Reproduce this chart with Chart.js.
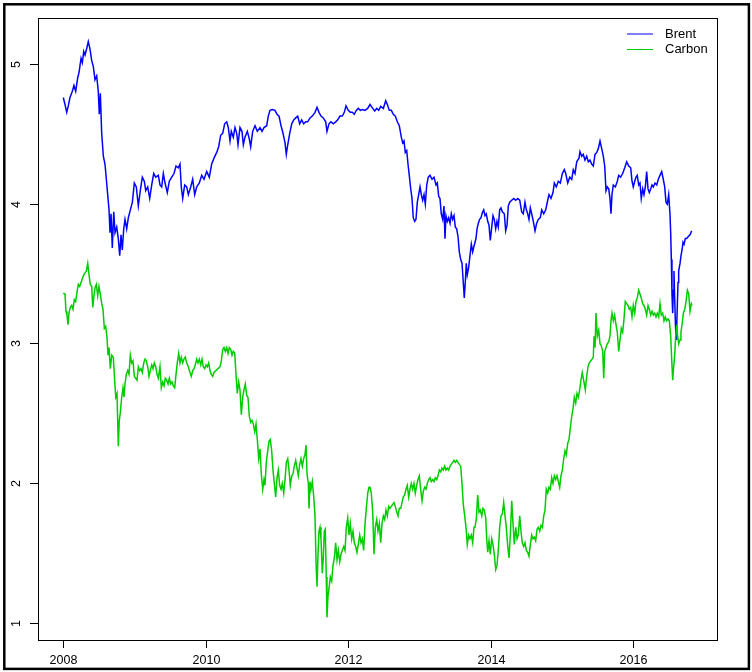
<!DOCTYPE html>
<html>
<head>
    <title>Brent and Carbon</title>
    <script src="https://cdn.jsdelivr.net/npm/chart.js"></script>
    <style>
        html, body {
            margin: 0;
            padding: 0;
            background: #fff;
            overflow: hidden;
        }
        canvas {
            display: block;
        }
    </style>
</head>
<body>
    <canvas id="priceChart" width="752" height="672"></canvas>
    <script>
        // log prices, [decimal year, value]
        const brent = [
            [2008.004,4.76],[2008.028,4.71],[2008.052,4.655],[2008.074,4.70],[2008.098,4.76],[2008.131,4.805],[2008.154,4.846],[2008.178,4.805],[2008.206,4.90],[2008.225,4.94],
            [2008.253,5.04],[2008.271,5.01],[2008.291,5.09],[2008.309,5.065],[2008.337,5.12],[2008.355,5.16],[2008.379,5.107],[2008.403,5.024],[2008.425,4.983],[2008.449,4.887],
            [2008.473,4.915],[2008.495,4.805],[2008.509,4.64],[2008.524,4.79],[2008.543,4.504],[2008.566,4.34],[2008.589,4.284],[2008.604,4.20],[2008.627,4.065],[2008.646,3.956],
            [2008.660,3.792],[2008.674,3.928],[2008.692,3.683],[2008.712,3.942],[2008.730,3.792],[2008.754,3.833],[2008.776,3.75],[2008.796,3.628],[2008.814,3.778],[2008.832,3.669],
            [2008.852,3.819],[2008.870,3.888],[2008.894,3.82],[2008.917,3.90],[2008.945,3.956],[2008.973,4.01],[2009.001,4.148],[2009.029,4.12],[2009.057,3.984],[2009.085,4.093],
            [2009.113,4.19],[2009.141,4.161],[2009.161,4.093],[2009.189,4.12],[2009.217,4.038],[2009.245,4.134],[2009.273,4.216],[2009.301,4.19],[2009.338,4.203],
            [2009.361,4.134],[2009.385,4.12],[2009.408,4.216],[2009.432,4.148],[2009.464,4.08],[2009.492,4.161],[2009.526,4.19],[2009.558,4.216],[2009.586,4.27],[2009.618,4.257],
            [2009.642,4.284],[2009.660,4.12],[2009.680,4.038],[2009.708,4.134],[2009.736,4.12],[2009.759,4.065],[2009.792,4.12],[2009.820,4.175],[2009.848,4.065],[2009.876,4.12],
            [2009.913,4.148],[2009.947,4.203],[2009.979,4.175],[2010.017,4.23],[2010.053,4.19],[2010.087,4.284],[2010.119,4.326],[2010.157,4.367],[2010.185,4.408],[2010.213,4.49],
            [2010.241,4.504],[2010.269,4.572],[2010.298,4.586],[2010.320,4.545],[2010.344,4.449],[2010.362,4.518],[2010.390,4.476],[2010.414,4.545],[2010.438,4.504],[2010.456,4.422],
            [2010.484,4.545],[2010.512,4.518],[2010.531,4.422],[2010.554,4.476],[2010.587,4.518],[2010.615,4.463],[2010.634,4.408],[2010.662,4.518],[2010.695,4.558],[2010.727,4.518],
            [2010.765,4.545],[2010.793,4.518],[2010.821,4.545],
            [2010.835,4.545],[2010.859,4.558],[2010.881,4.627],[2010.905,4.668],[2010.938,4.674],[2010.975,4.668],[2011.004,4.64],[2011.032,4.627],[2011.060,4.558],[2011.088,4.504],
            [2011.116,4.435],[2011.134,4.353],[2011.154,4.422],[2011.182,4.504],[2011.210,4.572],[2011.238,4.60],[2011.266,4.614],[2011.294,4.627],[2011.322,4.572],[2011.350,4.60],
            [2011.378,4.572],[2011.406,4.586],[2011.434,4.586],[2011.467,4.614],[2011.499,4.627],[2011.537,4.654],[2011.565,4.69],[2011.593,4.654],[2011.621,4.627],[2011.653,4.614],
            [2011.687,4.586],[2011.705,4.518],[2011.733,4.572],[2011.761,4.586],[2011.794,4.572],[2011.827,4.586],[2011.855,4.60],[2011.888,4.627],[2011.920,4.627],[2011.948,4.654],
            [2011.972,4.70],[2012.004,4.668],[2012.032,4.654],[2012.060,4.654],[2012.088,4.64],[2012.116,4.668],[2012.144,4.682],[2012.173,4.668],[2012.201,4.674],[2012.239,4.668],
            [2012.276,4.682],
            [2012.309,4.71],[2012.347,4.682],[2012.375,4.663],[2012.403,4.682],[2012.431,4.668],[2012.459,4.696],[2012.496,4.682],[2012.529,4.737],[2012.552,4.71],[2012.580,4.668],
            [2012.608,4.668],[2012.636,4.64],[2012.664,4.627],[2012.692,4.586],[2012.720,4.558],[2012.748,4.476],[2012.768,4.435],[2012.786,4.449],[2012.804,4.367],[2012.824,4.381],
            [2012.842,4.284],[2012.860,4.203],[2012.880,4.107],[2012.898,4.038],[2012.916,3.90],[2012.936,3.874],[2012.954,3.888],[2012.973,4.011],[2012.992,4.065],[2013.011,4.12],
            [2013.029,4.065],[2013.048,4.025],[2013.067,4.065],[2013.085,3.997],[2013.105,4.134],[2013.127,4.19],[2013.151,4.203],[2013.179,4.175],[2013.207,4.19],[2013.235,4.134],
            [2013.253,4.148],[2013.273,4.052],[2013.291,4.038],[2013.309,3.928],[2013.329,3.888],[2013.347,3.984],[2013.361,3.75],[2013.375,3.915],[2013.394,3.874],[2013.413,3.90],
            [2013.432,3.86],[2013.450,3.928],[2013.469,3.888],[2013.488,3.915],[2013.506,3.833],[2013.526,3.819],[2013.544,3.765],[2013.562,3.655],[2013.582,3.60],[2013.600,3.574],
            [2013.618,3.436],[2013.632,3.326],[2013.646,3.436],[2013.660,3.574],[2013.674,3.491],[2013.694,3.545],[2013.712,3.628],[2013.731,3.71],[2013.750,3.655],[2013.768,3.696],
            [2013.796,3.751],[2013.811,3.82],[2013.829,3.86],[2013.848,3.888],[2013.867,3.90],[2013.885,3.935],[2013.905,3.956],[2013.923,3.915],[2013.941,3.928],[2013.961,3.874],
            [2013.979,3.846],[2013.997,3.737],[2014.017,3.833],[2014.035,3.915],[2014.053,3.888],[2014.073,3.82],[2014.091,3.874],[2014.109,3.833],[2014.129,3.956],[2014.147,3.97],
            [2014.166,3.942],[2014.194,3.928],[2014.213,3.806],[2014.232,3.846],[2014.250,3.984],[2014.270,4.011],[2014.298,4.025],[2014.326,4.038],[2014.354,4.025],[2014.382,4.038],
            [2014.410,4.025],[2014.438,3.942],[2014.460,3.928],[2014.484,4.011],[2014.503,3.956],[2014.522,3.928],[2014.540,3.888],[2014.559,3.97],[2014.578,3.928],[2014.601,3.874],
            [2014.625,3.806],[2014.648,3.86],[2014.671,3.888],[2014.699,3.90],[2014.719,3.956],[2014.747,3.928],[2014.775,3.956],[2014.803,4.025],[2014.821,4.065],[2014.849,4.038],
            [2014.877,4.08],[2014.896,4.148],[2014.924,4.12],[2014.952,4.161],[2014.980,4.148],[2015.008,4.216],[2015.036,4.244],[2015.056,4.216],[2015.084,4.148],[2015.112,4.19],
            [2015.140,4.175],[2015.162,4.244],[2015.186,4.216],[2015.210,4.30],[2015.242,4.326],
            [2015.256,4.372],[2015.280,4.34],[2015.302,4.353],[2015.326,4.312],[2015.350,4.34],[2015.373,4.30],[2015.396,4.312],[2015.420,4.284],[2015.443,4.27],[2015.467,4.353],
            [2015.491,4.367],[2015.513,4.394],[2015.537,4.449],[2015.561,4.394],[2015.583,4.34],[2015.603,4.27],[2015.621,4.093],[2015.639,4.12],[2015.659,4.106],[2015.677,4.038],
            [2015.691,3.928],[2015.705,4.065],[2015.724,4.134],[2015.752,4.12],[2015.780,4.161],[2015.799,4.203],[2015.827,4.19],[2015.855,4.216],[2015.884,4.257],[2015.912,4.30],
            [2015.940,4.27],[2015.968,4.257],[2015.986,4.161],[2016.004,4.12],[2016.024,4.161],[2016.042,4.19],[2016.060,4.203],[2016.080,4.134],[2016.098,4.148],[2016.116,4.038],
            [2016.136,4.106],[2016.154,4.065],[2016.173,4.12],[2016.192,4.23],[2016.211,4.106],[2016.229,4.08],[2016.248,4.106],[2016.267,4.134],[2016.285,4.12],[2016.309,4.148],
            [2016.333,4.134],[2016.355,4.175],[2016.379,4.203],[2016.403,4.23],[2016.425,4.175],[2016.445,4.12],[2016.463,4.011],[2016.481,3.997],[2016.501,4.065],[2016.519,3.928],
            [2016.529,3.792],[2016.538,3.60],[2016.547,3.354],[2016.557,3.217],[2016.566,3.381],[2016.575,3.518],[2016.585,3.326],[2016.594,3.162],[2016.604,3.03],[2016.613,3.108],
            [2016.622,3.272],[2016.632,3.436],[2016.641,3.518],[2016.650,3.545],[2016.660,3.573],[2016.674,3.628],[2016.688,3.669],[2016.702,3.724],[2016.716,3.71],[2016.734,3.751],
            [2016.754,3.751],[2016.776,3.765],[2016.800,3.778],[2016.824,3.806]
        ];

        const carbon = [
            [2008.004,3.359],[2008.028,3.354],[2008.042,3.23],[2008.056,3.203],[2008.070,3.134],[2008.084,3.217],[2008.102,3.258],[2008.122,3.272],[2008.140,3.245],[2008.159,3.313],
            [2008.178,3.30],[2008.196,3.367],[2008.215,3.422],[2008.234,3.408],[2008.253,3.436],[2008.271,3.463],[2008.291,3.491],[2008.309,3.505],[2008.327,3.518],[2008.347,3.573],
            [2008.365,3.491],[2008.383,3.422],[2008.403,3.408],[2008.417,3.258],[2008.431,3.326],[2008.449,3.395],[2008.467,3.422],[2008.487,3.34],[2008.505,3.408],[2008.524,3.354],
            [2008.543,3.285],[2008.561,3.245],[2008.580,3.108],[2008.599,3.122],[2008.618,3.039],[2008.632,2.916],[2008.646,2.971],[2008.664,2.82],[2008.684,2.916],[2008.706,2.902],
            [2008.720,2.779],[2008.740,2.615],[2008.758,2.642],[2008.776,2.264],[2008.790,2.45],[2008.804,2.505],[2008.824,2.615],[2008.842,2.683],[2008.856,2.615],[2008.870,2.71],
            [2008.888,2.779],[2008.908,2.806],[2008.926,2.779],[2008.945,2.916],[2008.964,2.86],[2008.982,2.875],[2009.001,2.765],[2009.020,2.751],[2009.039,2.737],[2009.057,2.833],
            [2009.076,2.806],[2009.095,2.82],[2009.113,2.792],[2009.133,2.861],[2009.151,2.888],[2009.169,2.875],[2009.189,2.833],[2009.207,2.765],[2009.225,2.806],[2009.245,2.847],
            [2009.263,2.82],[2009.281,2.861],[2009.301,2.833],[2009.319,2.779],[2009.338,2.751],
            [2009.361,2.833],[2009.380,2.683],[2009.399,2.724],[2009.418,2.697],[2009.436,2.751],[2009.455,2.737],[2009.474,2.71],[2009.492,2.751],[2009.512,2.71],[2009.530,2.724],
            [2009.548,2.697],[2009.568,2.683],[2009.586,2.779],[2009.604,2.861],[2009.624,2.929],[2009.642,2.861],[2009.660,2.902],[2009.680,2.861],[2009.698,2.888],[2009.716,2.902],
            [2009.736,2.861],[2009.759,2.833],[2009.782,2.792],[2009.801,2.765],[2009.820,2.806],[2009.839,2.82],[2009.857,2.847],[2009.876,2.888],[2009.895,2.861],[2009.913,2.888],
            [2009.933,2.847],[2009.951,2.888],[2009.969,2.833],[2009.989,2.82],[2010.007,2.847],[2010.025,2.833],[2010.045,2.861],[2010.063,2.806],[2010.081,2.779],[2010.101,2.765],
            [2010.119,2.792],[2010.147,2.806],[2010.175,2.82],[2010.204,2.833],[2010.222,2.875],[2010.241,2.956],[2010.260,2.971],[2010.278,2.943],[2010.298,2.971],[2010.316,2.929],
            [2010.334,2.971],[2010.354,2.956],[2010.372,2.916],[2010.390,2.943],[2010.410,2.929],[2010.428,2.779],[2010.446,2.642],[2010.466,2.724],[2010.484,2.669],[2010.503,2.491],
            [2010.522,2.615],[2010.540,2.669],[2010.559,2.71],[2010.578,2.628],[2010.596,2.615],[2010.615,2.478],[2010.634,2.437],[2010.653,2.45],[2010.671,2.423],[2010.691,2.368],
            [2010.709,2.423],[2010.727,2.313],[2010.747,2.176],[2010.765,2.245],[2010.783,2.067],[2010.803,1.957],[2010.821,2.026],
            [2010.835,1.985],[2010.853,2.149],[2010.873,2.231],[2010.891,2.30],[2010.909,2.313],[2010.929,2.231],[2010.947,2.094],[2010.966,1.998],[2010.985,1.902],[2011.004,2.039],
            [2011.022,2.094],[2011.041,1.985],[2011.060,1.957],[2011.078,1.998],[2011.098,1.929],[2011.116,2.026],[2011.134,2.149],[2011.154,2.176],[2011.172,2.094],[2011.190,1.985],
            [2011.210,2.053],[2011.228,2.067],[2011.246,2.122],[2011.266,2.163],[2011.284,2.108],[2011.302,2.053],[2011.322,2.135],[2011.340,2.176],[2011.359,2.122],[2011.378,2.176],
            [2011.396,2.203],[2011.411,2.272],[2011.425,2.067],[2011.443,1.998],[2011.453,1.82],[2011.467,2.012],[2011.481,1.957],[2011.499,2.012],[2011.519,1.902],[2011.537,1.766],
            [2011.551,1.437],[2011.565,1.26],[2011.579,1.492],[2011.593,1.657],[2011.607,1.684],[2011.621,1.602],[2011.639,1.356],[2011.653,1.465],[2011.667,1.657],[2011.681,1.671],
            [2011.695,1.329],[2011.705,1.04],[2011.719,1.19],[2011.733,1.245],[2011.752,1.329],[2011.771,1.30],[2011.789,1.41],[2011.808,1.465],[2011.827,1.574],[2011.846,1.451],
            [2011.864,1.519],[2011.884,1.437],[2011.902,1.492],[2011.920,1.519],[2011.940,1.547],[2011.958,1.519],[2011.976,1.684],[2011.996,1.752],[2012.014,1.629],[2012.032,1.711],
            [2012.052,1.602],[2012.070,1.657],[2012.088,1.574],[2012.108,1.547],[2012.126,1.506],[2012.144,1.561],[2012.164,1.629],[2012.182,1.574],[2012.201,1.602],[2012.220,1.519],
            [2012.239,1.711],[2012.257,1.82],[2012.277,1.929],[2012.295,1.971],
            [2012.309,1.971],[2012.327,1.929],[2012.347,1.793],[2012.365,1.492],[2012.383,1.684],[2012.403,1.739],[2012.421,1.657],[2012.440,1.711],[2012.459,1.574],[2012.477,1.711],
            [2012.496,1.766],[2012.515,1.739],[2012.533,1.807],[2012.552,1.766],[2012.571,1.834],[2012.589,1.82],[2012.608,1.834],[2012.627,1.848],[2012.646,1.861],[2012.664,1.834],
            [2012.684,1.793],[2012.702,1.766],[2012.720,1.82],[2012.740,1.82],[2012.758,1.861],[2012.776,1.902],[2012.796,1.916],[2012.814,1.957],[2012.832,1.985],[2012.852,1.902],
            [2012.870,1.957],[2012.888,1.998],[2012.908,1.957],[2012.926,1.998],[2012.944,1.929],[2012.964,1.985],[2012.982,2.026],[2013.001,2.053],[2013.020,1.957],[2013.039,1.875],
            [2013.057,1.943],[2013.077,1.971],[2013.095,1.957],[2013.113,1.998],[2013.133,2.026],[2013.151,2.039],[2013.169,2.012],[2013.189,2.026],[2013.207,2.012],[2013.225,2.039],
            [2013.245,2.026],[2013.263,2.053],[2013.282,2.094],[2013.301,2.081],[2013.319,2.108],[2013.338,2.094],[2013.357,2.122],[2013.375,2.094],[2013.394,2.108],[2013.413,2.094],
            [2013.432,2.122],[2013.450,2.135],[2013.469,2.149],[2013.488,2.163],[2013.506,2.149],[2013.526,2.163],[2013.544,2.149],[2013.562,2.135],[2013.582,2.122],[2013.600,1.998],
            [2013.618,1.848],[2013.638,1.766],[2013.656,1.684],[2013.674,1.561],[2013.694,1.629],[2013.712,1.602],[2013.731,1.629],[2013.750,1.574],[2013.768,1.684],
            [2013.782,1.684],[2013.800,1.739],[2013.820,1.916],[2013.839,1.793],[2013.857,1.807],[2013.877,1.766],[2013.895,1.82],[2013.913,1.807],[2013.933,1.752],[2013.947,1.602],
            [2013.961,1.506],[2013.979,1.588],[2013.997,1.492],[2014.017,1.602],[2014.035,1.561],[2014.053,1.492],[2014.073,1.382],[2014.091,1.41],[2014.109,1.519],[2014.129,1.684],
            [2014.147,1.766],[2014.166,1.78],[2014.185,1.861],[2014.204,1.766],[2014.222,1.684],[2014.242,1.547],[2014.260,1.465],[2014.278,1.629],[2014.298,1.875],[2014.316,1.711],
            [2014.334,1.561],[2014.354,1.684],[2014.372,1.602],[2014.390,1.629],[2014.410,1.766],[2014.428,1.657],[2014.446,1.574],[2014.466,1.547],[2014.484,1.574],[2014.503,1.519],
            [2014.522,1.506],[2014.540,1.478],[2014.559,1.561],[2014.578,1.629],[2014.596,1.602],[2014.615,1.615],[2014.634,1.588],[2014.653,1.671],[2014.671,1.684],[2014.691,1.657],
            [2014.709,1.698],[2014.728,1.684],[2014.747,1.766],[2014.765,1.807],[2014.783,1.957],[2014.803,1.929],[2014.821,1.971],[2014.840,1.957],[2014.859,2.039],[2014.877,1.998],
            [2014.896,2.053],[2014.915,2.026],[2014.933,2.053],[2014.952,2.012],[2014.971,1.971],[2014.989,2.053],[2015.008,2.094],[2015.028,2.176],[2015.046,2.231],[2015.064,2.203],
            [2015.084,2.286],[2015.102,2.313],[2015.120,2.395],[2015.140,2.478],[2015.158,2.532],[2015.176,2.615],[2015.196,2.574],[2015.214,2.642],[2015.233,2.615],[2015.252,2.669],
            [2015.270,2.737],[2015.288,2.792],
            [2015.312,2.724],[2015.331,2.669],[2015.350,2.765],[2015.368,2.833],[2015.387,2.861],[2015.406,2.875],[2015.425,2.888],[2015.443,2.902],[2015.453,3.052],[2015.467,2.971],
            [2015.481,3.217],[2015.499,3.052],[2015.519,3.094],[2015.537,2.998],[2015.555,2.984],[2015.575,2.943],[2015.589,2.751],[2015.603,2.943],[2015.621,2.971],[2015.639,2.998],
            [2015.659,3.012],[2015.677,3.052],[2015.691,3.162],[2015.705,3.217],[2015.724,3.162],[2015.743,3.203],[2015.761,3.134],[2015.780,3.08],[2015.799,2.943],[2015.818,3.025],
            [2015.836,3.108],[2015.855,3.08],[2015.874,3.176],[2015.892,3.30],[2015.912,3.285],[2015.930,3.272],[2015.948,3.245],[2015.968,3.258],[2015.986,3.19],[2016.004,3.272],
            [2016.024,3.217],[2016.042,3.30],[2016.060,3.326],[2016.080,3.381],[2016.098,3.354],[2016.116,3.326],[2016.136,3.285],[2016.154,3.272],[2016.173,3.245],[2016.192,3.203],
            [2016.211,3.272],[2016.229,3.245],[2016.248,3.203],[2016.267,3.23],[2016.285,3.203],[2016.305,3.217],[2016.323,3.19],[2016.341,3.217],[2016.361,3.19],[2016.379,3.285],
            [2016.397,3.203],[2016.417,3.217],[2016.435,3.162],[2016.453,3.19],[2016.473,3.162],[2016.491,3.176],[2016.510,3.162],[2016.529,3.052],[2016.543,2.888],[2016.557,2.737],
            [2016.571,2.833],[2016.585,2.916],[2016.599,3.052],[2016.613,3.134],[2016.627,3.052],[2016.641,2.998],[2016.660,3.025],[2016.673,3.08],[2016.688,3.134],[2016.707,3.217],
            [2016.726,3.245],[2016.744,3.30],[2016.763,3.381],[2016.782,3.354],[2016.800,3.23],[2016.819,3.285],[2016.829,3.272]
        ];

        const seriesNames = ['Brent', 'Carbon'];
        const seriesColors = ['#0000ff', '#00cd00'];
        const xTicks = [2008, 2010, 2012, 2014, 2016];
        const yTicks = [1, 2, 3, 4, 5];

        const labelFont = '12.5px "Liberation Sans", Arial, sans-serif';

        // base-graphics look: outer frame, plot box, outward ticks, rotated y labels, legend
        const baseAxes = {
            id: 'baseAxes',
            afterDraw(chart) {
                const ctx = chart.ctx;
                const area = chart.chartArea;
                const xs = chart.scales.x;
                const ys = chart.scales.y;
                ctx.save();

                ctx.strokeStyle = '#000';
                ctx.lineWidth = 2.5;
                ctx.strokeRect(4.3, 4.3, 744.6, 664.6);

                ctx.lineWidth = 1;
                ctx.strokeRect(area.left + 0.5, area.top + 0.5, area.right - area.left, area.bottom - area.top);

                ctx.fillStyle = '#000';
                ctx.font = labelFont;

                xTicks.forEach(t => {
                    const px = Math.round(xs.getPixelForValue(t)) + 0.5;
                    ctx.beginPath();
                    ctx.moveTo(px, area.bottom);
                    ctx.lineTo(px, area.bottom + 8);
                    ctx.stroke();
                    ctx.textAlign = 'center';
                    ctx.textBaseline = 'middle';
                    ctx.fillText(String(t), px, area.bottom + 21);
                });

                yTicks.forEach(t => {
                    const py = Math.round(ys.getPixelForValue(t)) + 0.5;
                    ctx.beginPath();
                    ctx.moveTo(area.left, py);
                    ctx.lineTo(area.left - 8, py);
                    ctx.stroke();
                    ctx.save();
                    ctx.translate(16.5, py);
                    ctx.rotate(-Math.PI / 2);
                    ctx.textAlign = 'center';
                    ctx.textBaseline = 'middle';
                    ctx.fillText(String(t), 0, 0);
                    ctx.restore();
                });

                // legend, top right inside the box
                ctx.font = '13px "Liberation Sans", Arial, sans-serif';
                chart.data.datasets.forEach((ds, i) => {
                    const y = 34 + i * 15.5;
                    ctx.strokeStyle = ds.borderColor;
                    ctx.lineWidth = 1;
                    ctx.beginPath();
                    ctx.moveTo(627, y);
                    ctx.lineTo(653, y);
                    ctx.stroke();
                    ctx.fillStyle = '#000';
                    ctx.textAlign = 'left';
                    ctx.textBaseline = 'middle';
                    ctx.fillText(ds.label, 665, y);
                });

                ctx.restore();
            }
        };

        const toPoints = rows => rows.map(r => ({ x: r[0], y: r[1] }));

        const ctx = document.getElementById('priceChart').getContext('2d');
        const chart = new Chart(ctx, {
            type: 'line',
            data: {
                datasets: [
                    {
                        label: seriesNames[0],
                        data: toPoints(brent),
                        borderColor: seriesColors[0],
                        borderWidth: 1.5,
                        pointRadius: 0,
                        tension: 0,
                        fill: false,
                        order: 2
                    },
                    {
                        label: seriesNames[1],
                        data: toPoints(carbon),
                        borderColor: seriesColors[1],
                        borderWidth: 1.5,
                        pointRadius: 0,
                        tension: 0,
                        fill: false,
                        order: 1
                    }
                ]
            },
            options: {
                responsive: false,
                animation: false,
                devicePixelRatio: 1,
                layout: {
                    padding: { left: 38, right: 35, top: 18, bottom: 32 }
                },
                plugins: {
                    legend: { display: false },
                    tooltip: { enabled: false }
                },
                scales: {
                    x: {
                        type: 'linear',
                        min: 2007.649,
                        max: 2017.179,
                        display: false
                    },
                    y: {
                        type: 'linear',
                        min: 0.878,
                        max: 5.329,
                        display: false
                    }
                }
            },
            plugins: [baseAxes]
        });
    </script>
</body>
</html>
